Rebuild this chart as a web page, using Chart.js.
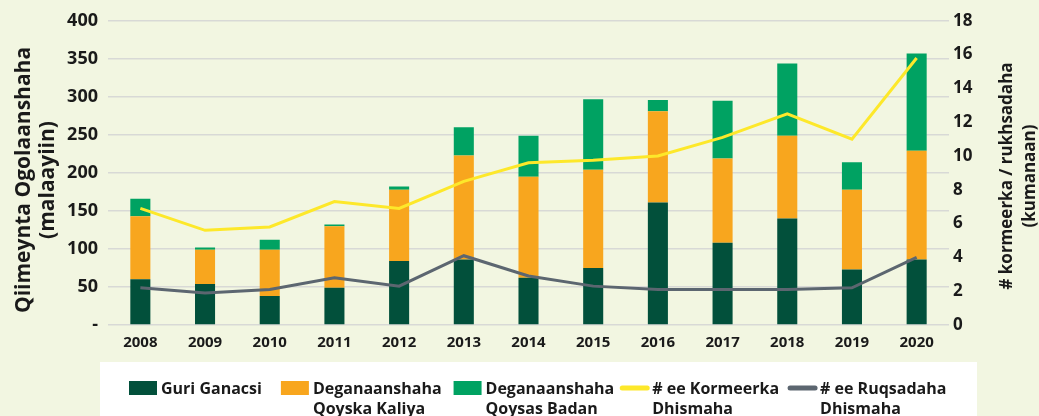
<!DOCTYPE html>
<html>
<head>
<meta charset="utf-8">
<script src="https://cdn.jsdelivr.net/npm/chart.js@4"></script>
<style>
  html, body { margin: 0; padding: 0; background: #f2f6e1; }
  #wrap { position: relative; width: 1039px; height: 416px; }
</style>
</head>
<body>
<div id="wrap"><canvas id="chart"></canvas></div>
<script>
// Qiimeynta ogolaanshaha dhismaha - stacked bars + two lines on second axis
const years = ['2008', '2009', '2010', '2011', '2012', '2013', '2014',
    '2015', '2016', '2017', '2018', '2019', '2020'];

// malaayiin (left axis)
const guriGanacsi = [60, 54, 38, 49, 84, 86, 62, 75, 161, 108, 140, 73, 86];
const qoyskaKaliya = [83, 45, 61, 81, 94, 137, 133, 129, 120, 111, 109, 105, 143];
const qoysasBadan = [23, 3, 13, 2, 4, 37, 54, 93, 15, 76, 95, 36, 128];

// kumanaan (right axis)
const kormeerka = [6.9, 5.6, 5.8, 7.3, 6.9, 8.5, 9.6, 9.75, 10.0, 11.1, 12.5, 11.0, 15.8];
const ruqsadaha = [2.2, 1.9, 2.1, 2.8, 2.3, 4.1, 2.9, 2.3, 2.1, 2.1, 2.1, 2.2, 4.0];

const legendNames = [
    ['Guri Ganacsi'],
    ['Deganaanshaha', 'Qoyska Kaliya'],
    ['Deganaanshaha', 'Qoysas Badan'],
    ['# ee Kormeerka', 'Dhismaha'],
    ['# ee Ruqsadaha', 'Dhismaha']
];

const FONT = '"Open Sans", "DejaVu Sans", sans-serif';
const TEXT = '#1a1a1a';

// white legend strip at the bottom, drawn from the datasets
const legendPlugin = {
    id: 'bottomLegend',
    afterDraw: function (chart) {
        const ctx = chart.ctx;
        ctx.save();
        ctx.fillStyle = '#ffffff';
        ctx.fillRect(100, 362, 877, 54);

        ctx.font = 'bold 16px ' + FONT;
        ctx.textAlign = 'left';
        ctx.textBaseline = 'alphabetic';
        const gaps = [19, 12, 6, 9];
        let x = 129;
        chart.data.datasets.forEach(function (ds, i) {
            const lines = legendNames[i];
            if (ds.type === 'line') {
                ctx.strokeStyle = ds.borderColor;
                ctx.lineWidth = 5;
                ctx.lineCap = 'round';
                ctx.beginPath();
                ctx.moveTo(x + 2, 388);
                ctx.lineTo(x + 27, 388);
                ctx.stroke();
            } else {
                ctx.fillStyle = ds.backgroundColor;
                ctx.fillRect(x, 381, 28, 14);
            }
            ctx.fillStyle = TEXT;
            let w = 0;
            lines.forEach(function (t, k) {
                ctx.fillText(t, x + 32, 394 + k * 20);
                w = Math.max(w, ctx.measureText(t).width);
            });
            x += 32 + w + (gaps[i] || 0);
        });
        ctx.restore();
    }
};

// both axis titles read bottom-to-top, two lines each
const axisTitlePlugin = {
    id: 'axisTitles',
    afterDraw: function (chart) {
        const ctx = chart.ctx;
        ctx.save();
        ctx.fillStyle = TEXT;
        ctx.textAlign = 'center';
        ctx.textBaseline = 'alphabetic';

        ctx.save();
        ctx.translate(0, 180);
        ctx.rotate(-Math.PI / 2);
        ctx.font = 'bold 21px ' + FONT;
        ctx.fillText('Qiimeynta Ogolaanshaha', 0, 30);
        ctx.fillText('(malaayiin)', 0, 54);
        ctx.restore();

        ctx.save();
        ctx.translate(0, 176);
        ctx.rotate(-Math.PI / 2);
        ctx.font = 'bold 17px ' + FONT;
        ctx.fillText('# kormeerka / rukhsadaha', 0, 1012);
        ctx.fillText('(kumanaan)', 0, 1035);
        ctx.restore();

        ctx.restore();
    }
};

new Chart(document.getElementById('chart'), {
    data: {
        labels: years,
        datasets: [
            {
                type: 'bar',
                label: 'Guri Ganacsi',
                data: guriGanacsi,
                backgroundColor: '#02503b',
                yAxisID: 'y',
                stack: 'qiime',
                order: 1
            },
            {
                type: 'bar',
                label: 'Deganaanshaha Qoyska Kaliya',
                data: qoyskaKaliya,
                backgroundColor: '#f8a61e',
                yAxisID: 'y',
                stack: 'qiime',
                order: 1
            },
            {
                type: 'bar',
                label: 'Deganaanshaha Qoysas Badan',
                data: qoysasBadan,
                backgroundColor: '#00a262',
                yAxisID: 'y',
                stack: 'qiime',
                order: 1
            },
            {
                type: 'line',
                label: '# ee Kormeerka Dhismaha',
                data: kormeerka,
                borderColor: '#fde82a',
                borderWidth: 3,
                pointRadius: 0,
                tension: 0,
                yAxisID: 'y1',
                order: 0
            },
            {
                type: 'line',
                label: '# ee Ruqsadaha Dhismaha',
                data: ruqsadaha,
                borderColor: '#5c6670',
                borderWidth: 3,
                pointRadius: 0,
                tension: 0,
                yAxisID: 'y1',
                order: 0
            }
        ]
    },
    options: {
        responsive: true,
        maintainAspectRatio: false,
        animation: false,
        layout: { padding: { top: 19, left: 0, right: 0, bottom: 0 } },
        datasets: {
            bar: { categoryPercentage: 1, barPercentage: 0.31 }
        },
        plugins: {
            legend: { display: false },
            title: { display: false },
            tooltip: { enabled: false }
        },
        scales: {
            x: {
                stacked: true,
                grid: { display: false, drawTicks: false },
                border: { display: false },
                ticks: {
                    padding: 9,
                    color: TEXT,
                    font: { family: FONT, size: 15, weight: 'bold' }
                },
                afterFit: function (scale) { scale.height = 91; }
            },
            y: {
                position: 'left',
                stacked: true,
                min: 0,
                max: 400,
                grid: { color: '#d8d9d6', lineWidth: 1.5, drawTicks: false },
                border: { display: false },
                ticks: {
                    stepSize: 50,
                    padding: 10,
                    color: TEXT,
                    font: { family: FONT, size: 18, weight: 'bold' },
                    callback: function (v) { return v === 0 ? '-' : v; }
                },
                afterFit: function (scale) { scale.width = 108; }
            },
            y1: {
                position: 'right',
                min: 0,
                max: 18,
                grid: { display: false, drawTicks: false },
                border: { display: false },
                ticks: {
                    stepSize: 2,
                    padding: 4,
                    color: TEXT,
                    font: { family: FONT, size: 17, weight: 'bold' }
                },
                afterFit: function (scale) { scale.width = 90; }
            }
        }
    },
    plugins: [legendPlugin, axisTitlePlugin]
});
</script>
</body>
</html>
